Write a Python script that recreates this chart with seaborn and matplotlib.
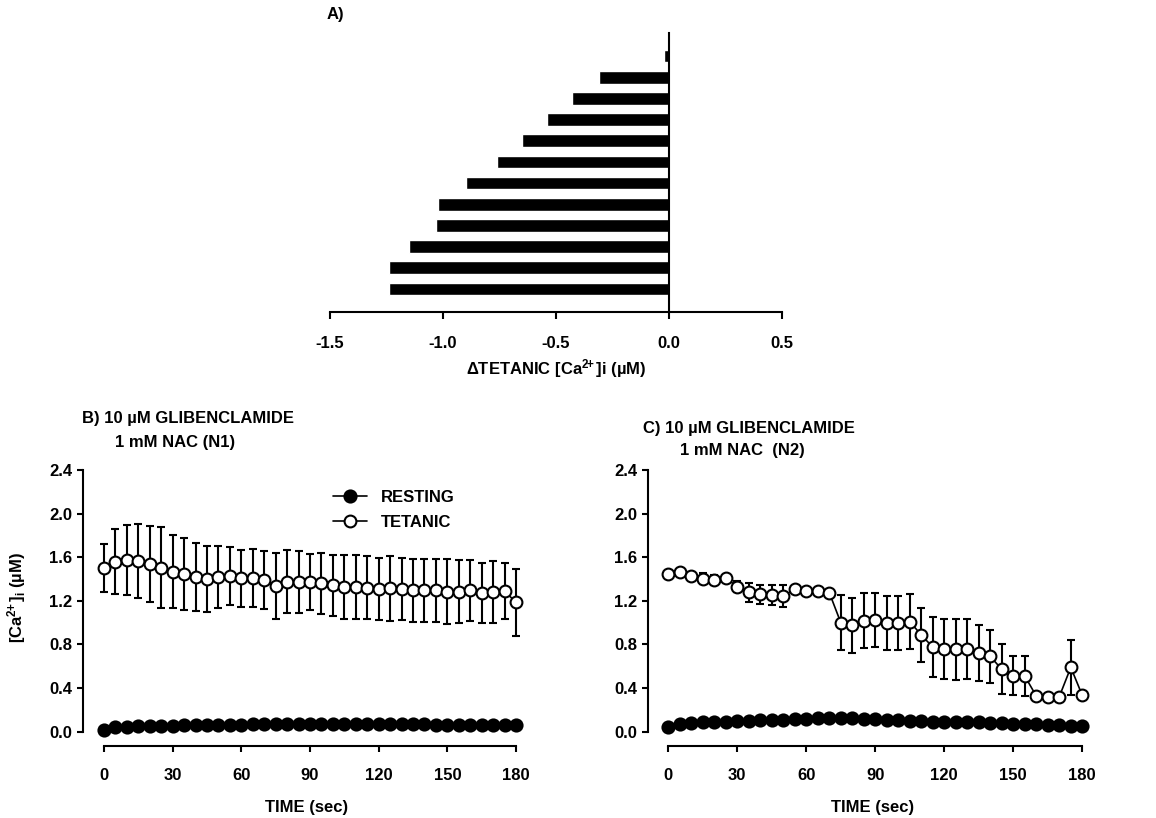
import numpy as np
import pandas as pd
import matplotlib
matplotlib.use("Agg")
import matplotlib.pyplot as plt
import seaborn as sns

# ---------------- data ----------------
# Panel A: delta tetanic [Ca2+]i per fibre (top to bottom)
fibres = [f"F{i}" for i in range(1, 13)]
delta_tetanic = [-0.02, -0.31, -0.43, -0.54, -0.65, -0.76, -0.90, -1.02, -1.03, -1.15, -1.24, -1.24]
a_ticks = [-1.5, -1.0, -0.5, 0.0, 0.5]

# Panels B/C time axis (sec)
time_s = list(range(0, 181, 5))

# Panel B (N1)
b_rest = [0.02, 0.04, 0.045, 0.05, 0.05, 0.055, 0.055, 0.06, 0.06, 0.06, 0.065, 0.065,
          0.065, 0.07, 0.07, 0.07, 0.07, 0.07, 0.07, 0.075, 0.075, 0.075, 0.075, 0.075,
          0.07, 0.07, 0.07, 0.07, 0.07, 0.065, 0.065, 0.065, 0.065, 0.06, 0.06, 0.06, 0.06]
b_tet = [1.50, 1.56, 1.575, 1.565, 1.54, 1.505, 1.468, 1.443, 1.42, 1.40, 1.42, 1.428,
         1.406, 1.406, 1.39, 1.336, 1.376, 1.373, 1.373, 1.36, 1.345, 1.327, 1.327, 1.32,
         1.305, 1.315, 1.305, 1.296, 1.296, 1.296, 1.284, 1.284, 1.296, 1.269, 1.281, 1.29, 1.186]
b_tet_err = [0.22, 0.295, 0.32, 0.34, 0.35, 0.37, 0.336, 0.33, 0.31, 0.30, 0.285, 0.27,
             0.26, 0.266, 0.265, 0.30, 0.29, 0.28, 0.26, 0.28, 0.28, 0.29, 0.29, 0.29,
             0.285, 0.30, 0.285, 0.29, 0.29, 0.29, 0.30, 0.29, 0.28, 0.275, 0.28, 0.26, 0.305]

# Panel C (N2)
c_rest = [0.04, 0.07, 0.08, 0.085, 0.09, 0.09, 0.10, 0.10, 0.105, 0.105, 0.105, 0.115,
          0.12, 0.125, 0.13, 0.13, 0.125, 0.12, 0.115, 0.11, 0.105, 0.10, 0.095, 0.09,
          0.09, 0.085, 0.085, 0.085, 0.08, 0.08, 0.075, 0.07, 0.07, 0.065, 0.065, 0.05, 0.05]
c_tet = [1.446, 1.462, 1.428, 1.404, 1.391, 1.41, 1.33, 1.279, 1.26, 1.254, 1.245, 1.306,
         1.293, 1.293, 1.275, 1.0, 0.975, 1.018, 1.025, 0.994, 0.995, 1.01, 0.886, 0.776,
         0.76, 0.757, 0.755, 0.722, 0.69, 0.572, 0.515, 0.51, 0.327, 0.315, 0.321, 0.59, 0.333]
c_tet_err = [0.02, 0.02, 0.04, 0.05, 0.047, 0.02, 0.05, 0.085, 0.085, 0.095, 0.10, 0.02,
             0.02, 0.02, 0.02, 0.25, 0.25, 0.25, 0.25, 0.248, 0.245, 0.25, 0.248, 0.277,
             0.277, 0.28, 0.275, 0.26, 0.247, 0.23, 0.183, 0.185, 0.02, 0.02, 0.02, 0.255, 0.02]

y_ticks = [0.0, 0.4, 0.8, 1.2, 1.6, 2.0, 2.4]
x_ticks = [0, 30, 60, 90, 120, 150, 180]

# ---------------- style ----------------
sns.set_theme(style="white")
plt.rcParams["font.family"] = ["Liberation Sans", "DejaVu Sans"]
plt.rcParams["font.weight"] = "bold"
plt.rcParams["axes.labelweight"] = "bold"
plt.rcParams["text.color"] = "black"
plt.rcParams["axes.labelcolor"] = "black"
plt.rcParams["xtick.color"] = "black"
plt.rcParams["ytick.color"] = "black"
plt.rcParams["mathtext.fontset"] = "custom"
plt.rcParams["mathtext.rm"] = "Liberation Sans:bold"
plt.rcParams["mathtext.it"] = "Liberation Sans:bold"
plt.rcParams["mathtext.bf"] = "Liberation Sans:bold"
plt.rcParams["mathtext.sf"] = "Liberation Sans:bold"
plt.rcParams["mathtext.default"] = "rm"

FS = 12
W, H = 1156, 818
fig = plt.figure(figsize=(W / 100, H / 100), dpi=100)


def rect(l, t, r, b):
    return [l / W, 1 - b / H, (r - l) / W, (b - t) / H]


def ftext(x, y, s, **kw):
    fig.text(x / W, 1 - y / H, s, fontsize=FS, fontweight="bold", color="black", **kw)


CA = r"[Ca$^{2\!\!+}$]"

# ---------------- Panel A ----------------
axA = fig.add_axes(rect(330, 33, 782, 312))
dfA = pd.DataFrame({"fibre": fibres, "delta": delta_tetanic})
sns.barplot(data=dfA, x="delta", y="fibre", orient="h", color="black",
            width=0.6, ax=axA, saturation=1)
axA.set_xlim(-1.5, 0.5)
axA.set_ylim(12.086, -1.086)
axA.set_xticks(a_ticks)
axA.set_xticklabels([f"{t:.1f}" for t in a_ticks])
axA.set_yticks([])
axA.set_ylabel("")
for s in ["top", "right"]:
    axA.spines[s].set_visible(False)
axA.spines["left"].set_position(("data", 0))
for s in ["left", "bottom"]:
    axA.spines[s].set_color("black")
    axA.spines[s].set_linewidth(1.5)
axA.tick_params(axis="x", direction="out", length=5, width=1.5, pad=12,
                labelsize=FS, colors="black", bottom=True)
axA.set_xlabel("\u0394TETANIC " + CA + "i (\u00b5M)", fontsize=FS, labelpad=5, color="black")
ftext(327, 15, "A)", ha="left", va="center")


# ---------------- Panels B and C ----------------
def time_panel(box, x0px, x180px, rest, tet, err, legend=False):
    l, t, r, b = box
    ax = fig.add_axes(rect(l, t, r, b))
    pxs = (x180px - x0px) / 180.0
    ax.set_xlim(-(x0px - l) / pxs, 180 + (r - x180px) / pxs)
    ax.set_ylim(-(b - 731.7) / 109.0, 2.4)
    ax.errorbar(time_s, tet, yerr=err, fmt="none", ecolor="black", elinewidth=1.5,
                capsize=2.6, capthick=1.5, zorder=2)
    sns.lineplot(x=time_s, y=rest, ax=ax, color="black", marker="o", markersize=9,
                 markerfacecolor="black", markeredgecolor="black", markeredgewidth=1.2,
                 linewidth=1.2, label="RESTING", zorder=3, clip_on=False)
    sns.lineplot(x=time_s, y=tet, ax=ax, color="black", marker="o", markersize=8.5,
                 markerfacecolor="white", markeredgecolor="black", markeredgewidth=1.5,
                 linewidth=1.2, label="TETANIC", zorder=4, clip_on=False)
    for s in ["top", "right"]:
        ax.spines[s].set_visible(False)
    for s in ["left", "bottom"]:
        ax.spines[s].set_color("black")
        ax.spines[s].set_linewidth(1.5)
    ax.spines["left"].set_bounds(0, 2.4)
    ax.spines["bottom"].set_bounds(0, 180)
    ax.set_yticks(y_ticks)
    ax.set_yticklabels([f"{v:.1f}" for v in y_ticks])
    ax.set_xticks(x_ticks)
    ax.set_xticklabels([str(v) for v in x_ticks])
    ax.tick_params(axis="both", direction="out", length=4.3, width=1.5,
                   labelsize=FS, colors="black", left=True, bottom=True)
    ax.tick_params(axis="y", pad=3.5)
    ax.tick_params(axis="x", pad=12)
    ax.set_xlabel("TIME (sec)", fontsize=FS, labelpad=12, color="black")
    if legend:
        h, lab = ax.get_legend_handles_labels()
        ax.legend(h, lab, loc="upper left", bbox_to_anchor=(333 / W, 1 - 490 / H),
                  bbox_transform=fig.transFigure, frameon=False, fontsize=FS,
                  handlelength=2.05, handletextpad=0.8, labelspacing=0.6,
                  borderpad=0, borderaxespad=0, labelcolor="black")
    else:
        lg = ax.get_legend()
        if lg is not None:
            lg.remove()
    return ax


axB = time_panel((83, 470, 530, 745.7), 104, 516, b_rest, b_tet, b_tet_err, legend=True)
axB.set_ylabel(CA + "$_{i}$ (\u00b5M)", fontsize=FS, color="black",
               va="center", rotation_mode="anchor")
axB.yaxis.set_label_coords(17 / W, 1 - 597 / H, transform=fig.transFigure)

axC = time_panel((648.3, 470, 1096, 745.7), 668.3, 1082.3, c_rest, c_tet, c_tet_err)
axC.set_ylabel("")

ftext(82, 419, "B) 10 \u00b5M GLIBENCLAMIDE", ha="left", va="center")
ftext(115, 442, "1 mM NAC (N1)", ha="left", va="center")
ftext(643, 429, "C) 10 \u00b5M GLIBENCLAMIDE", ha="left", va="center")
ftext(680, 451, "1 mM NAC  (N2)", ha="left", va="center")

fig.savefig("out.png", dpi=100, facecolor="white")
